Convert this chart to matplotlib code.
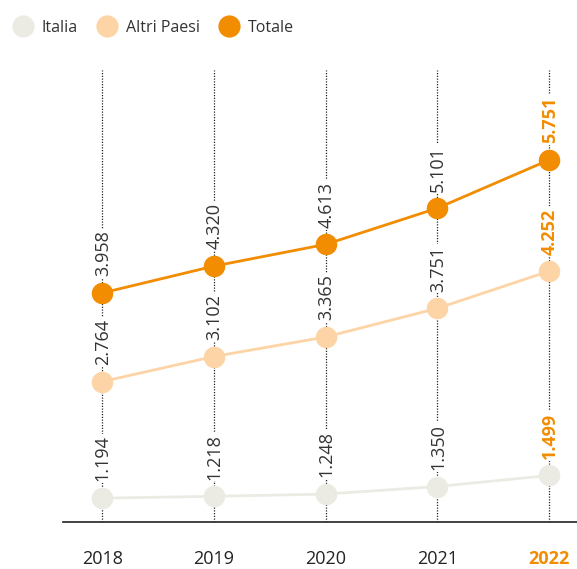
import matplotlib
matplotlib.use("Agg")
import matplotlib.pyplot as plt
from matplotlib.lines import Line2D

plt.rcParams['font.family'] = ['Open Sans', 'DejaVu Sans']

anni = ['2018', '2019', '2020', '2021', '2022']
italia = [1194, 1218, 1248, 1350, 1499]
altri_paesi = [2764, 3102, 3365, 3751, 4252]
totale = [3958, 4320, 4613, 5101, 5751]

etichette_valori = {
    'Italia': ['1.194', '1.218', '1.248', '1.350', '1.499'],
    'Altri Paesi': ['2.764', '3.102', '3.365', '3.751', '4.252'],
    'Totale': ['3.958', '4.320', '4.613', '5.101', '5.751'],
}

colori = {'Italia': '#ebebe4', 'Altri Paesi': '#fdd4a6', 'Totale': '#f28c00'}
arancio = '#f28c00'
grigio = '#333333'

fig = plt.figure(figsize=(5.77, 5.69), dpi=100)
ax = fig.add_axes([63 / 577, 1 - 522 / 569, 1 - 63 / 577, (522 - 70) / 569])

x = list(range(len(anni)))

# linee verticali tratteggiate
for xi in x:
    ax.axvline(xi, color='#222222', linestyle=(0, (1, 1.2)), linewidth=0.9, zorder=1)

serie = [('Italia', italia), ('Altri Paesi', altri_paesi), ('Totale', totale)]
for nome, valori in serie:
    ax.plot(x, valori, color=colori[nome], linewidth=2, zorder=3)
    ax.plot(x, valori, 'o', color=colori[nome], markersize=15.5, zorder=4,
            markeredgewidth=0)
    for i, (xi, v) in enumerate(zip(x, valori)):
        ultimo = i == len(x) - 1
        ax.annotate(etichette_valori[nome][i], (xi, v), xytext=(0.5, 12),
                    textcoords='offset points', rotation=90,
                    ha='center', va='bottom', fontsize=13,
                    color=arancio if ultimo else grigio,
                    fontweight='bold' if ultimo else 'normal',
                    bbox=dict(boxstyle='square,pad=0.1', fc='white', ec='none'),
                    zorder=5)

ax.set_xlim(-0.35, 4.25)
ax.set_ylim(872, 6963)
ax.set_yticks([])
ax.set_xticks(x)
ax.set_xticklabels(anni, fontsize=13, color='#222222')
ax.get_xticklabels()[-1].set_color(arancio)
ax.get_xticklabels()[-1].set_fontweight('bold')
ax.tick_params(axis='x', length=0, pad=20)
for s in ['top', 'right', 'left']:
    ax.spines[s].set_visible(False)
ax.spines['bottom'].set_color('#222222')
ax.spines['bottom'].set_linewidth(1.2)

maniglie = [Line2D([], [], marker='o', linestyle='none', markersize=16,
                   markeredgewidth=0, color=colori[n]) for n, _ in serie]
fig.legend(maniglie, [n for n, _ in serie], loc='upper left',
           bbox_to_anchor=(-0.012, 0.99), ncol=3, frameon=False, fontsize=11.5,
           handletextpad=0.15, columnspacing=0.85, labelcolor=grigio,
           borderaxespad=0.5)

fig.savefig('out.png', dpi=100)
